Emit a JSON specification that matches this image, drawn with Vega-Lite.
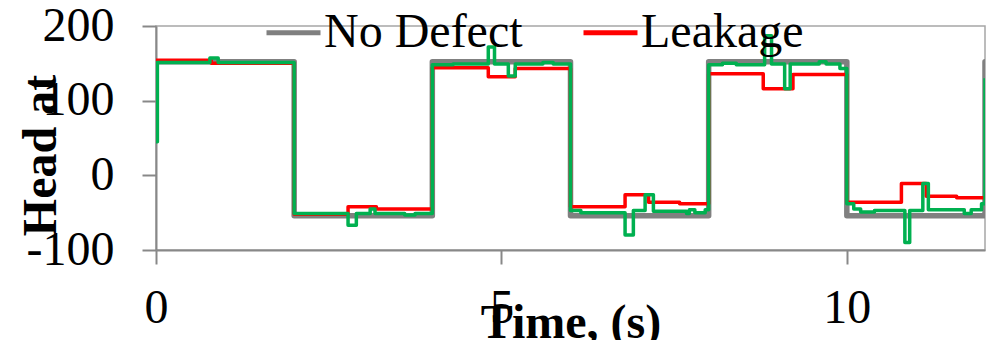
{
  "$schema": "https://vega.github.io/schema/vega-lite/v6.json",
  "width": 829,
  "height": 224,
  "autosize": "none",
  "padding": {"left": 156, "top": 26, "right": 6, "bottom": 90},
  "background": "white",
  "config": {
    "view": {"stroke": "#A6A6A6", "strokeWidth": 1.5},
    "font": "Liberation Serif",
    "axis": {
      "labelFont": "Liberation Serif",
      "labelFontSize": 48,
      "labelColor": "black",
      "labelFlush": false,
      "labelOverlap": false,
      "titleFont": "Liberation Serif",
      "titleFontSize": 48,
      "titleFontWeight": "bold",
      "titleColor": "black",
      "domainColor": "#888888",
      "domainWidth": 2,
      "tickColor": "#888888",
      "tickWidth": 2,
      "tickSize": 14,
      "grid": false
    }
  },
  "data": {
    "values": [
      {"s": "No Defect", "t": 0, "v": 152},
      {"s": "No Defect", "t": 2, "v": -54},
      {"s": "No Defect", "t": 4, "v": 152},
      {"s": "No Defect", "t": 6, "v": -54},
      {"s": "No Defect", "t": 8, "v": 152},
      {"s": "No Defect", "t": 10, "v": -54},
      {"s": "No Defect", "t": 12, "v": 152},

      {"s": "Leakage", "t": 0, "v": 154},
      {"s": "Leakage", "t": 0.8, "v": 150},
      {"s": "Leakage", "t": 2, "v": -52},
      {"s": "Leakage", "t": 2.78, "v": -42},
      {"s": "Leakage", "t": 3.19, "v": -45},
      {"s": "Leakage", "t": 4, "v": 144},
      {"s": "Leakage", "t": 4.81, "v": 132},
      {"s": "Leakage", "t": 5.2, "v": 143},
      {"s": "Leakage", "t": 6, "v": -42},
      {"s": "Leakage", "t": 6.79, "v": -26},
      {"s": "Leakage", "t": 7.13, "v": -36},
      {"s": "Leakage", "t": 7.58, "v": -38},
      {"s": "Leakage", "t": 8, "v": 136},
      {"s": "Leakage", "t": 8.79, "v": 116},
      {"s": "Leakage", "t": 9.22, "v": 135},
      {"s": "Leakage", "t": 10, "v": -36},
      {"s": "Leakage", "t": 10.79, "v": -11},
      {"s": "Leakage", "t": 11.15, "v": -28},
      {"s": "Leakage", "t": 11.59, "v": -30},
      {"s": "Leakage", "t": 12, "v": -30},

      {"s": "Blockage", "t": 0, "v": 45},
      {"s": "Blockage", "t": 0.02, "v": 151},
      {"s": "Blockage", "t": 0.78, "v": 157},
      {"s": "Blockage", "t": 0.9, "v": 151},
      {"s": "Blockage", "t": 2, "v": -51},
      {"s": "Blockage", "t": 2.78, "v": -67},
      {"s": "Blockage", "t": 2.9, "v": -51},
      {"s": "Blockage", "t": 3.1, "v": -45},
      {"s": "Blockage", "t": 3.17, "v": -51},
      {"s": "Blockage", "t": 3.6, "v": -53},
      {"s": "Blockage", "t": 3.75, "v": -51},
      {"s": "Blockage", "t": 4, "v": 148},
      {"s": "Blockage", "t": 4.3, "v": 149},
      {"s": "Blockage", "t": 4.81, "v": 172},
      {"s": "Blockage", "t": 4.9, "v": 149},
      {"s": "Blockage", "t": 5.1, "v": 133},
      {"s": "Blockage", "t": 5.2, "v": 149},
      {"s": "Blockage", "t": 5.6, "v": 151},
      {"s": "Blockage", "t": 5.75, "v": 149},
      {"s": "Blockage", "t": 6, "v": -47},
      {"s": "Blockage", "t": 6.15, "v": -50},
      {"s": "Blockage", "t": 6.79, "v": -80},
      {"s": "Blockage", "t": 6.91, "v": -47},
      {"s": "Blockage", "t": 7.08, "v": -26},
      {"s": "Blockage", "t": 7.2, "v": -48},
      {"s": "Blockage", "t": 7.68, "v": -51},
      {"s": "Blockage", "t": 7.72, "v": -46},
      {"s": "Blockage", "t": 7.8, "v": -50},
      {"s": "Blockage", "t": 7.95, "v": -46},
      {"s": "Blockage", "t": 8, "v": 148},
      {"s": "Blockage", "t": 8.2, "v": 150},
      {"s": "Blockage", "t": 8.4, "v": 148},
      {"s": "Blockage", "t": 8.81, "v": 187},
      {"s": "Blockage", "t": 8.91, "v": 149},
      {"s": "Blockage", "t": 9.1, "v": 116},
      {"s": "Blockage", "t": 9.18, "v": 149},
      {"s": "Blockage", "t": 9.6, "v": 152},
      {"s": "Blockage", "t": 9.7, "v": 149},
      {"s": "Blockage", "t": 9.9, "v": 143},
      {"s": "Blockage", "t": 10, "v": -38},
      {"s": "Blockage", "t": 10.1, "v": -45},
      {"s": "Blockage", "t": 10.2, "v": -49},
      {"s": "Blockage", "t": 10.4, "v": -47},
      {"s": "Blockage", "t": 10.84, "v": -90},
      {"s": "Blockage", "t": 10.91, "v": -47},
      {"s": "Blockage", "t": 11.1, "v": -11},
      {"s": "Blockage", "t": 11.18, "v": -46},
      {"s": "Blockage", "t": 11.7, "v": -51},
      {"s": "Blockage", "t": 11.8, "v": -46},
      {"s": "Blockage", "t": 11.95, "v": -38},
      {"s": "Blockage", "t": 12, "v": 130}
    ]
  },
  "encoding": {
    "x": {
      "field": "t",
      "type": "quantitative",
      "scale": {"domain": [0, 12], "nice": false, "zero": false},
      "axis": {
        "values": [0, 5, 10],
        "labelPadding": 20,
        "title": "Time, (s)",
        "titleX": 414.5,
        "titleY": 87,
        "titleAlign": "center",
        "titleBaseline": "alphabetic"
      }
    },
    "y": {
      "field": "v",
      "type": "quantitative",
      "scale": {"domain": [-100, 200], "nice": false, "zero": false},
      "axis": {
        "values": [-100, 0, 100, 200],
        "labelExpr": "datum.value < 0 ? '-' + abs(datum.value) : '' + datum.value",
        "labelPadding": 28,
        "title": "Head at",
        "titleAngle": -90,
        "titleX": -101,
        "titleY": 129,
        "titleAlign": "center",
        "titleBaseline": "alphabetic"
      }
    },
    "color": {
      "field": "s",
      "type": "nominal",
      "scale": {"domain": ["No Defect", "Leakage", "Blockage"], "range": ["#808080", "#FF0000", "#00B050"]},
      "legend": {
        "values": ["No Defect", "Leakage"],
        "title": null,
        "orient": "none",
        "legendX": 108,
        "legendY": -23,
        "direction": "horizontal",
        "symbolType": "stroke",
        "symbolSize": 2916,
        "symbolStrokeWidth": 5,
        "labelFont": "Liberation Serif",
        "labelFontSize": 48,
        "labelColor": "black",
        "labelLimit": 0,
        "labelOffset": 1,
        "columnPadding": 50,
        "padding": 0
      }
    }
  },
  "layer": [
    {
      "transform": [{"filter": "datum.s === 'No Defect'"}],
      "mark": {"type": "line", "interpolate": "step-after", "strokeWidth": 5.5, "strokeJoin": "round", "strokeCap": "round", "clip": true}
    },
    {
      "transform": [{"filter": "datum.s === 'Leakage'"}],
      "mark": {"type": "line", "interpolate": "step-after", "strokeWidth": 3.5, "strokeJoin": "round", "clip": true}
    },
    {
      "transform": [{"filter": "datum.s === 'Blockage'"}],
      "mark": {"type": "line", "interpolate": "step-after", "strokeWidth": 3.5, "strokeJoin": "round", "clip": true}
    }
  ]
}
